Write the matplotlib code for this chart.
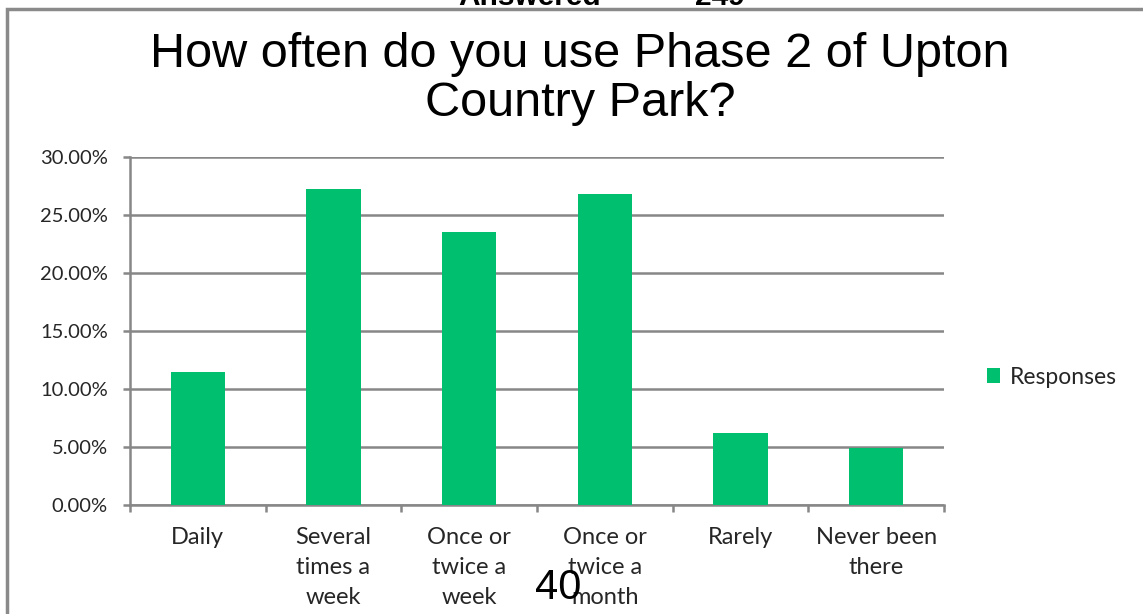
import matplotlib.pyplot as plt
from matplotlib.patches import Rectangle
from matplotlib.ticker import FuncFormatter, MultipleLocator

categories = ["Daily", "Several\ntimes a\nweek", "Once or\ntwice a\nweek",
              "Once or\ntwice a\nmonth", "Rarely", "Never been\nthere"]
responses = [11.5, 27.2, 23.5, 26.8, 6.2, 4.9]

W, H = 1143, 614
fig = plt.figure(figsize=(W / 100, H / 100), dpi=100)
ax = fig.add_axes([130 / W, 1 - 505 / H, (944 - 130) / W, (505 - 157) / H])

green = '#00BF6F'
grid_c = '#878787'
label_font = ['Lato', 'DejaVu Sans']

x = list(range(len(categories)))
ax.bar(x, responses, width=0.4, color=green, label="Responses", zorder=3)

ax.set_xlim(-0.5, len(categories) - 0.5)
ax.set_ylim(0, 30)
ax.yaxis.set_major_locator(MultipleLocator(5))
ax.yaxis.set_major_formatter(FuncFormatter(lambda v, p: f"{v:.2f}%"))
ax.grid(axis='y', color=grid_c, linewidth=1.8, zorder=0)

ax.set_xticks([i - 0.5 for i in range(len(categories) + 1)], minor=False)
ax.set_xticklabels([])
ax.set_xticks(x, minor=True)
ax.set_xticklabels(categories, minor=True, fontsize=17, family=label_font,
                   color='#262626', linespacing=1.52, va='top')
ax.tick_params(axis='x', which='minor', length=0, pad=16)
ax.tick_params(axis='x', which='major', length=5, width=1.8, color=grid_c)
ax.tick_params(axis='y', length=5, width=1.8, color=grid_c, labelsize=14.5,
               labelcolor='#262626', pad=11)
for t in ax.get_yticklabels():
    t.set_family(label_font)

for s in ['top', 'right']:
    ax.spines[s].set_visible(False)
for s in ['left', 'bottom']:
    ax.spines[s].set_color(grid_c)
    ax.spines[s].set_linewidth(1.8)

leg = fig.legend(loc='center left', bbox_to_anchor=(966 / W, 1 - 377 / H),
                 frameon=False, handlelength=0.6, handleheight=0.6,
                 handletextpad=0.4, prop={'family': label_font, 'size': 16.5})
for t in leg.get_texts():
    t.set_color('#262626')

# frame around the chart
fig.add_artist(Rectangle((7 / W, -0.1), 1.2, 1 - 9 / H + 0.1, transform=fig.transFigure,
                         fill=False, edgecolor='#8a8a8a', linewidth=2.5))

fig.text(580 / W, 1 - 67 / H, "How often do you use Phase 2 of Upton",
         ha='center', va='baseline', fontsize=35, family='Liberation Sans')
fig.text(580 / W, 1 - 116 / H, "Country Park?",
         ha='center', va='baseline', fontsize=35, family='Liberation Sans')

# header text cut by the image edge
fig.text(530 / W, 1 - 5 / H, "Answered", ha='center', va='baseline', fontsize=21.5,
         family='Liberation Sans', weight='bold')
fig.text(720 / W, 1 - 5 / H, "249", ha='center', va='baseline', fontsize=21.5,
         family='Liberation Sans', weight='bold')

# page number
fig.text(558 / W, 1 - 599 / H, "40", ha='center', va='baseline', fontsize=30,
         family='Liberation Sans')

fig.savefig('out.png', dpi=100)
